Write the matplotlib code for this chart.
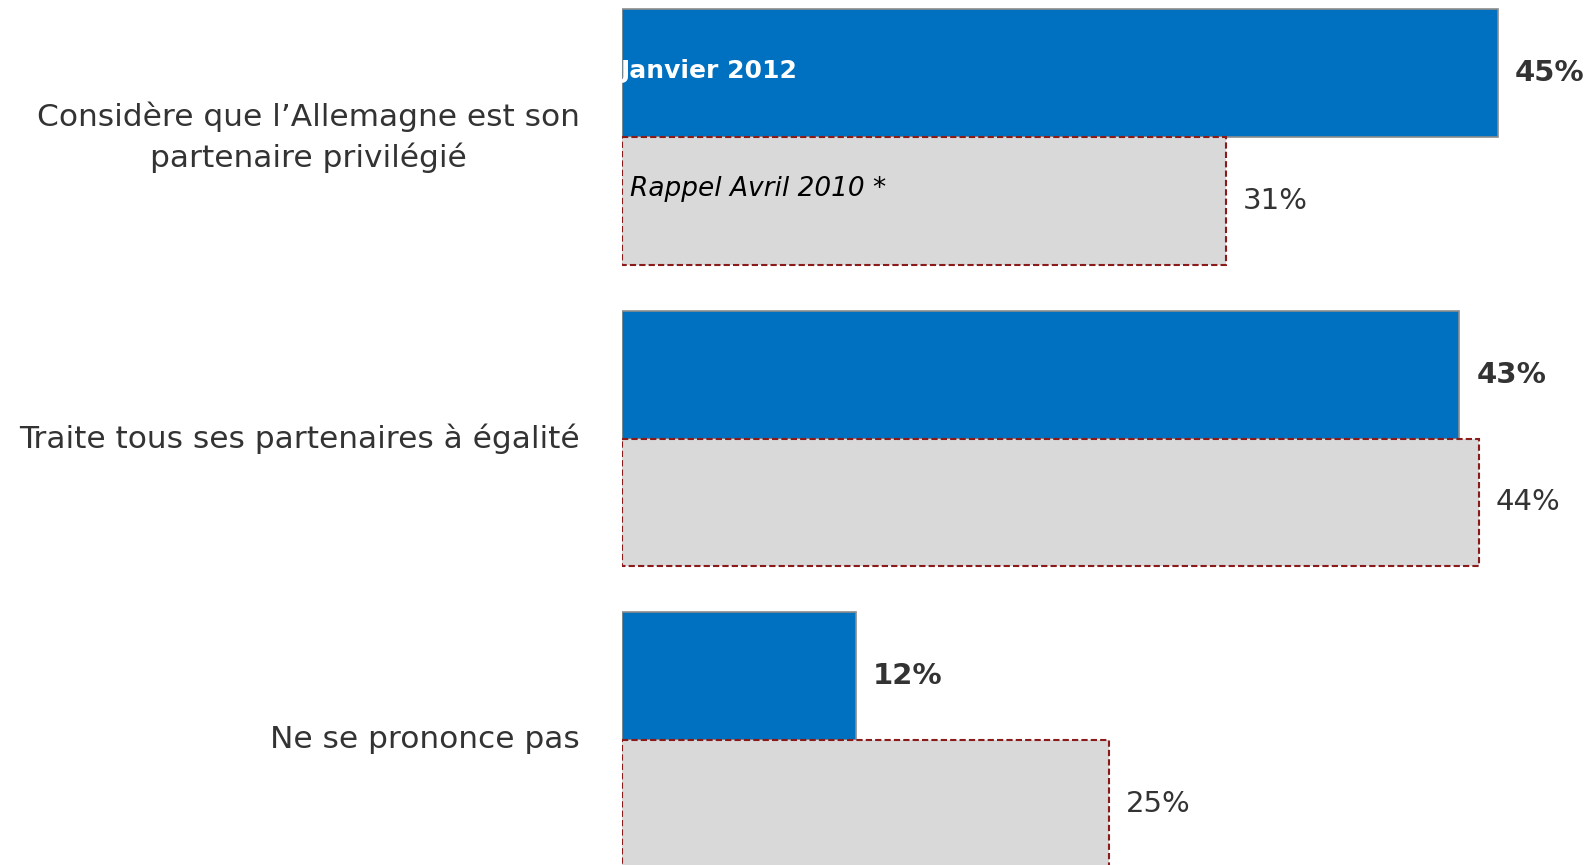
import numpy as np
import matplotlib
matplotlib.use("Agg")
import matplotlib.pyplot as plt

# data
categories = ["Considère que l\u2019Allemagne est son\npartenaire privilégié",
              "Traite tous ses partenaires à égalité",
              "Ne se prononce pas"]
jan2012 = [45, 43, 12]
avr2010 = [31, 44, 25]
series_names = ["Janvier 2012", "Rappel Avril 2010 *"]

blue = "#0070C0"
grey = "#D9D9D9"
red_edge = "#8B1A1A"
txt = "#333333"

plt.rcParams['font.family'] = ['DejaVu Sans']

fig = plt.figure(figsize=(15.89, 8.65), dpi=100)
# axes start where bars start (x ~ 622px) and fill the rest of the figure
ax = fig.add_axes([622 / 1589, 0, 1 - 622 / 1589, 1])

y = np.arange(len(categories))
h = 0.4236

b1 = ax.barh(y - h / 2, jan2012, height=h, color=blue, edgecolor="#8c8c8c", linewidth=1.2)
b2 = ax.barh(y + h / 2, avr2010, height=h, color=grey, edgecolor=red_edge,
             linewidth=1.5, linestyle=(0, (3, 1.5)))

ax.set_xlim(0, 967 / 19.47)
ax.set_ylim(2.415, -0.455)
ax.axis("off")

for yy, v in zip(y, jan2012):
    ax.annotate(f"{v}%", (v, yy - h / 2), xytext=(17, 0), textcoords="offset pixels",
                ha="left", va="center", fontsize=21, fontweight="bold", color=txt)
for yy, v in zip(y, avr2010):
    ax.annotate(f"{v}%", (v, yy + h / 2), xytext=(17, 0), textcoords="offset pixels",
                ha="left", va="center", fontsize=21, color=txt)

# series names written inside the first pair of bars
ax.annotate(series_names[0], (0, y[0] - h / 2), xytext=(-2, 2), textcoords="offset pixels",
            ha="left", va="center", fontsize=18, fontweight="bold", color="white")
ax.annotate(series_names[1], (0, y[0] + h / 2), xytext=(8, 12), textcoords="offset pixels",
            ha="left", va="center", fontsize=19, fontstyle="italic", color="black")

# category labels on the left
for yy, lab in zip(y, categories):
    ax.annotate(lab, (0, yy), xytext=(-42, 0), textcoords="offset pixels",
                ha="right", va="center", multialignment="center", linespacing=1.4,
                fontsize=22.5, color=txt, annotation_clip=False)

fig.savefig("out.png", dpi=100)
